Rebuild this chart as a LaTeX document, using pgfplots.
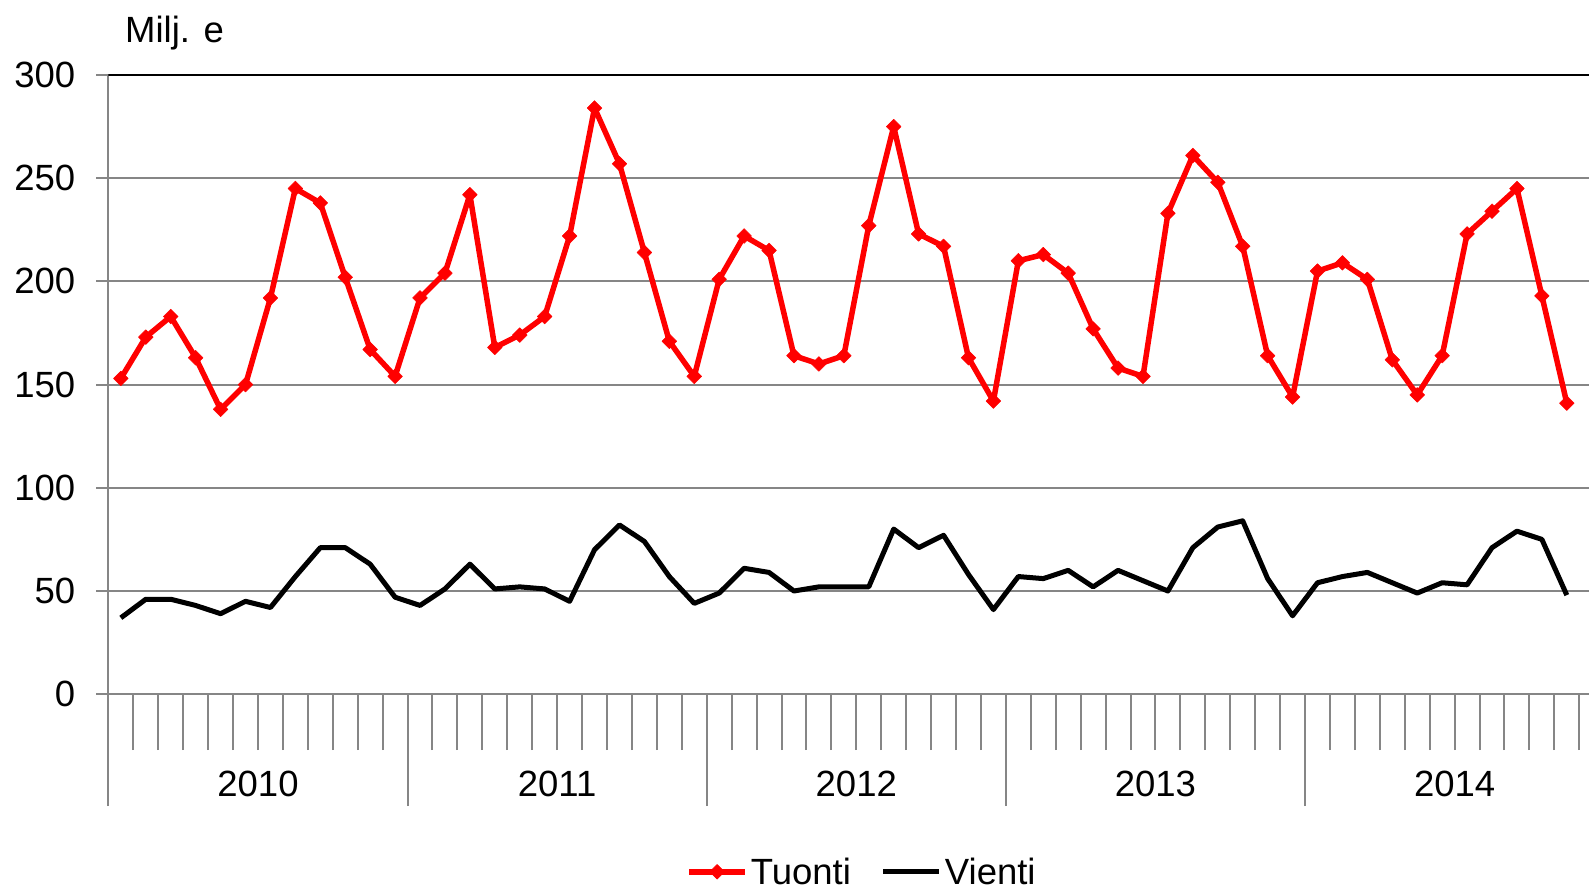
\documentclass[border=0pt]{standalone}
\usepackage{fontspec}
\setmainfont{Liberation Sans}
\usepackage{pgfplots}
\pgfplotsset{compat=1.18}
\definecolor{gridgray}{HTML}{868686}
\pgfplotsset{
 redleg/.style={legend image code/.code={\draw[##1, mark repeat=2, mark phase=2] plot coordinates {(0pt,0pt) (28pt,0pt) (56pt,0pt)};}},
 blackleg/.style={legend image code/.code={\draw[##1] (0pt,0pt) -- (56pt,0pt);}},
}
\begin{document}
\begin{tikzpicture}[font=\fontsize{36.5}{43}\selectfont]
\begin{axis}[
 name=ax, at={(0pt,0pt)}, anchor=south west,
 scale only axis, width=1480.6pt, height=619.2pt,
 xmin=0, xmax=59.39, ymin=0, ymax=300,
 axis x line*=bottom, axis y line*=left,
 axis line style={gridgray, line width=2pt},
 ytick={0,50,...,300},
 ymajorgrids, grid style={gridgray, line width=2pt},
 tick align=outside,
 tick style={gridgray, line width=2pt},
 major tick length=12pt,
 minor tick length=56pt,
 xtick={0,12,24,36,48}, xticklabels={},
 xtick style={/pgfplots/major tick length=112pt},
 minor xtick={1,...,59},
 extra x ticks={6,18,30,42,54},
 extra x tick labels={2010,2011,2012,2013,2014},
 extra x tick style={major tick length=0pt, tick style={draw=none}},
 xticklabel style={anchor=base, inner sep=0pt, yshift=-102pt},
 yticklabel style={anchor=east, inner sep=0pt, xshift=-21pt},
 tick label style={font=\fontsize{36.5}{43}\selectfont},
 /pgf/number format/assume math mode=true,
 legend columns=2,
 legend style={at={(0.5083,-0.2868)}, anchor=center, draw=none, fill=none, inner sep=0pt,
   font=\fontsize{36.5}{43}\selectfont,
   nodes={inner sep=0pt},
   /tikz/every even column/.append style={column sep=30pt},
   /tikz/every odd column/.append style={column sep=3pt}},
]
\addplot[red, line width=5.5pt, line join=round, mark=square*, mark size=5.2pt,
  mark options={rotate=45, line width=0.5pt, solid, fill=red, draw=red}, redleg]
coordinates {
(0.5,153) (1.5,173) (2.5,183) (3.5,163) (4.5,138) (5.5,150) (6.5,192) (7.5,245) (8.5,238) (9.5,202) (10.5,167) (11.5,154)
(12.5,192) (13.5,204) (14.5,242) (15.5,168) (16.5,174) (17.5,183) (18.5,222) (19.5,284) (20.5,257) (21.5,214) (22.5,171) (23.5,154)
(24.5,201) (25.5,222) (26.5,215) (27.5,164) (28.5,160) (29.5,164) (30.5,227) (31.5,275) (32.5,223) (33.5,217) (34.5,163) (35.5,142)
(36.5,210) (37.5,213) (38.5,204) (39.5,177) (40.5,158) (41.5,154) (42.5,233) (43.5,261) (44.5,248) (45.5,217) (46.5,164) (47.5,144)
(48.5,205) (49.5,209) (50.5,201) (51.5,162) (52.5,145) (53.5,164) (54.5,223) (55.5,234) (56.5,245) (57.5,193) (58.5,141)
};
\addlegendentry{Tuonti}
\addplot[black, line width=5pt, line join=round, no markers, blackleg]
coordinates {
(0.5,37) (1.5,46) (2.5,46) (3.5,43) (4.5,39) (5.5,45) (6.5,42) (7.5,57) (8.5,71) (9.5,71) (10.5,63) (11.5,47)
(12.5,43) (13.5,51) (14.5,63) (15.5,51) (16.5,52) (17.5,51) (18.5,45) (19.5,70) (20.5,82) (21.5,74) (22.5,57) (23.5,44)
(24.5,49) (25.5,61) (26.5,59) (27.5,50) (28.5,52) (29.5,52) (30.5,52) (31.5,80) (32.5,71) (33.5,77) (34.5,58) (35.5,41)
(36.5,57) (37.5,56) (38.5,60) (39.5,52) (40.5,60) (41.5,55) (42.5,50) (43.5,71) (44.5,81) (45.5,84) (46.5,56) (47.5,38)
(48.5,54) (49.5,57) (50.5,59) (51.5,54) (52.5,49) (53.5,54) (54.5,53) (55.5,71) (56.5,79) (57.5,75) (58.5,48)
};
\addlegendentry{Vienti}
\draw[black, line width=2.5pt] (rel axis cs:0,1) -- (rel axis cs:1,1);
\end{axis}
\node[anchor=base west, inner sep=0pt] at (16.6pt,651.2pt) {Milj. e};
\pgfresetboundingbox
\useasboundingbox (-108.4pt,-196.8pt) rectangle (1480.6pt,694.2pt);
\end{tikzpicture}
\end{document}
